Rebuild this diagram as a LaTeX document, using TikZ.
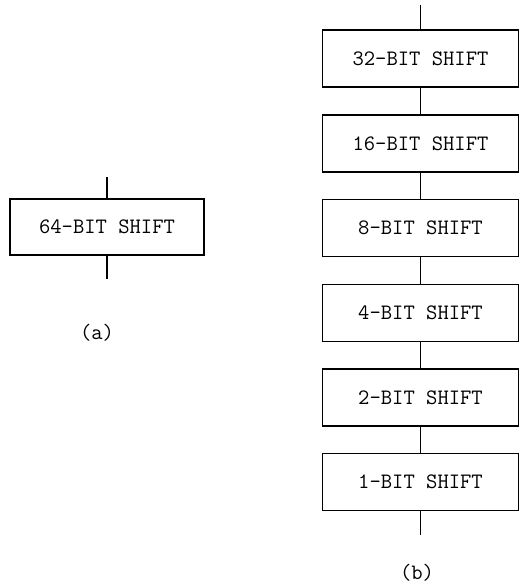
\documentclass[tikz,border=0pt]{standalone}
\usepackage{tikz}
\usetikzlibrary{positioning}
\tikzset{
  shiftbox/.style={draw, line width=1.6pt, minimum width=196pt, minimum height=57pt, inner sep=0pt, font=\ttfamily\fontsize{22}{26}\selectfont},
  link/.style={line width=1.4pt},
  caption/.style={font=\ttfamily\fontsize{22}{26}\selectfont}
}

\begin{document}
\begin{tikzpicture}[x=1pt, y=1pt]
      \useasboundingbox (0,0) rectangle (520,-588);
      % (a) single stage
      \node[shiftbox, minimum width=194pt, minimum height=56pt] (big) at (107,-227) {64-BIT SHIFT};
      \coordinate (bigin) at (107,-177);
      \coordinate (bigout) at (107,-279);
      \draw[link] (bigin) -- (big.north);
      \draw[link] (big.south) -- (bigout);
      \node[caption] (capa) at (97,-333) {(a)};
      % (b) cascade of stages
      \foreach \n/\y in {32/-58.5, 16/-143.5, 8/-228, 4/-313, 2/-397.5, 1/-482}
        \node[shiftbox] (s\n) at (420.5,\y) {\n-BIT SHIFT};
      \coordinate (in) at (420.5,-5);
      \coordinate (out) at (420.5,-535);
      \draw[link] (in) -- (s32.north);
      \draw[link] (s32) -- (s16);
      \draw[link] (s16) -- (s8);
      \draw[link] (s8) -- (s4);
      \draw[link] (s4) -- (s2);
      \draw[link] (s2) -- (s1);
      \draw[link] (s1.south) -- (out);
      \node[caption] (capb) at (417,-573) {(b)};
    \end{tikzpicture}
\end{document}
